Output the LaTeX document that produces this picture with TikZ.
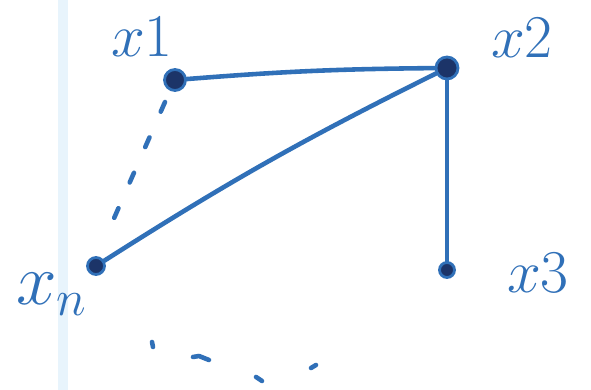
\documentclass[tikz,border=0pt]{standalone}
\usetikzlibrary{positioning}
\definecolor{ink}{RGB}{48,112,184}
\definecolor{inkdark}{RGB}{28,52,104}
\definecolor{margin}{RGB}{232,244,252}
\tikzset{
  vert/.style={circle,fill=inkdark,draw=ink,line width=0.8pt,inner sep=0pt},
  edge/.style={draw=ink,line width=1.3pt},
  lbl/.style={text=ink,font=\LARGE}
}
\begin{document}
\begin{tikzpicture}[line cap=round,line join=round]
  \useasboundingbox (0,0) rectangle (5.91,3.90);
  \fill[white] (0,0) rectangle (5.91,3.90);
  \draw[margin,line width=3pt] (0.63,0) -- (0.63,3.90);
  \node[vert,minimum size=0.21cm] (x1) at (1.75,3.10) {};
  \node[vert,minimum size=0.22cm] (x2) at (4.47,3.22) {};
  \node[vert,minimum size=0.15cm] (x3) at (4.47,1.20) {};
  \node[vert,minimum size=0.17cm] (xn) at (0.96,1.24) {};
  \node[lbl] (l1) at (1.42,3.53) {$x1$};
  \node[lbl] (l2) at (5.22,3.52) {$x2$};
  \node[lbl] (l3) at (5.38,1.17) {$x3$};
  \node[lbl,font=\huge] (ln) at (0.52,0.96) {$x_n$};
  \draw[edge] (x1) to[bend left=2] (x2);
  \draw[edge] (xn) to[bend left=3] (x2);
  \draw[edge] (x2) -- (x3);
  \draw[ink,line width=1.3pt,dash pattern=on 3pt off 8pt] ([shift={(-0.1,-0.22)}]x1.center) -- ([shift={(0.12,0.34)}]xn.center);
  % the dots below
  \draw[ink,line width=1.3pt] (1.52,0.48) -- (1.53,0.43);
  \draw[ink,line width=1.3pt] (1.93,0.33) -- (1.99,0.34) -- (2.09,0.30);
  \draw[ink,line width=1.3pt] (2.56,0.13) -- (2.62,0.09);
  \draw[ink,line width=1.3pt] (3.11,0.22) -- (3.16,0.25);
\end{tikzpicture}
\end{document}
